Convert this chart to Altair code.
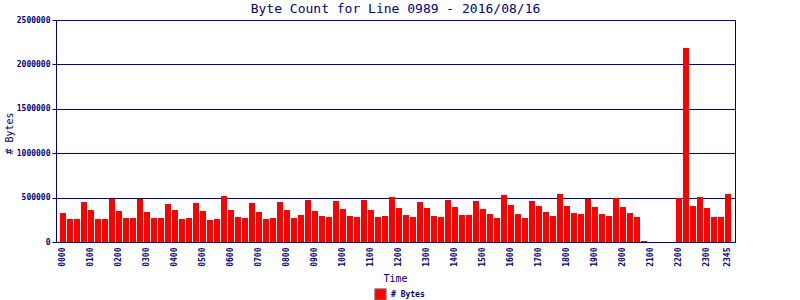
import altair as alt
import pandas as pd

# 15-minute time slots (categories)
times = [f"{h:02d}{m:02d}" for h in range(24) for m in (0, 15, 30, 45)]

# Byte counts per 15-minute slot
byte_counts = [
    326000, 259000, 259000, 450000, 360000, 259000, 259000, 484000,   # 0000-0145
    349000, 270000, 270000, 484000, 338000, 270000, 270000, 428000,   # 0200-0345
    360000, 259000, 270000, 439000, 349000, 248000, 259000, 518000,   # 0400-0545
    360000, 282000, 270000, 439000, 338000, 259000, 270000, 450000,   # 0600-0745
    360000, 270000, 304000, 473000, 349000, 293000, 282000, 462000,   # 0800-0945
    372000, 293000, 282000, 473000, 360000, 282000, 293000, 507000,   # 1000-1145
    383000, 304000, 282000, 450000, 383000, 293000, 282000, 473000,   # 1200-1345
    394000, 304000, 304000, 462000, 372000, 315000, 270000, 529000,   # 1400-1545
    417000, 315000, 270000, 462000, 405000, 338000, 293000, 541000,   # 1600-1745
    405000, 326000, 315000, 484000, 394000, 315000, 293000, 496000,   # 1800-1945
    394000, 326000, 282000, 11000, 0, 0, 0, 0,                        # 2000-2145
    496000, 2185000, 405000, 507000, 383000, 282000, 282000, 541000,  # 2200-2345
]

x_tick_labels = ["0000", "0100", "0200", "0300", "0400", "0500", "0600", "0700",
                 "0800", "0900", "1000", "1100", "1200", "1300", "1400", "1500",
                 "1600", "1700", "1800", "1900", "2000", "2100", "2200", "2300",
                 "2345"]
y_tick_values = [0, 500000, 1000000, 1500000, 2000000, 2500000]

series_name = "# Bytes"
title_text = "Byte Count for Line 0989 - 2016/08/16"

df = pd.DataFrame({
    "time": times,
    "bytes": byte_counts,
    "series": [series_name] * len(times),
})

navy = "#000080"
font = "DejaVu Sans Mono"

chart = alt.Chart(df).mark_bar().encode(
    x=alt.X(
        "time:O",
        sort=None,
        scale=alt.Scale(paddingInner=0.14, paddingOuter=0.57),
        axis=alt.Axis(
            values=x_tick_labels,
            labelAngle=-90,
            labelFont=font,
            labelFontSize=8,
            labelFontWeight="bold",
            labelPadding=5,
            ticks=False,
            grid=False,
            title="Time",
            titleFont=font,
            titleFontSize=10,
            titleFontWeight="normal",
            titleX=339,
            titleY=36,
            titleBaseline="middle",
            titleAlign="center",
        ),
    ),
    y=alt.Y(
        "bytes:Q",
        scale=alt.Scale(domain=[0, 2500000], nice=False),
        axis=alt.Axis(
            values=y_tick_values,
            format="d",
            grid=True,
            labelFont=font,
            labelFontSize=8,
            labelFontWeight="bold",
            labelPadding=2,
            tickSize=4,
            title="# Bytes",
            titleFont=font,
            titleFontSize=10,
            titleFontWeight="normal",
            titleX=-47,
            titleY=113,
            titleAngle=270,
            titleBaseline="middle",
            titleAlign="center",
        ),
    ),
    color=alt.Color(
        "series:N",
        scale=alt.Scale(range=["#ff0000"]),
        legend=alt.Legend(
            title=None,
            orient="none",
            legendX=318,
            legendY=268,
            symbolType="square",
            symbolSize=130,
            symbolStrokeColor="#808080",
            symbolStrokeWidth=1,
            symbolOpacity=1,
            labelFont=font,
            labelFontSize=8,
            labelFontWeight="bold",
            labelColor=navy,
        ),
    ),
).properties(
    width=679,
    height=222,
    title=alt.Title(
        title_text,
        font=font,
        fontSize=13,
        fontWeight="normal",
        color=navy,
        anchor="middle",
        frame="group",
        offset=5,
        dy=5,
    ),
    autosize=alt.AutoSizeParams(type="none"),
    padding={"left": 56, "top": 20, "right": 65, "bottom": 58},
    background="white",
).configure_view(
    stroke=navy,
    strokeWidth=1,
).configure_axis(
    domainColor=navy,
    tickColor=navy,
    gridColor=navy,
    gridOpacity=1,
    gridWidth=1,
    labelColor=navy,
    titleColor=navy,
)

chart.save("out.html", embed_options={"renderer": "svg", "actions": False})
